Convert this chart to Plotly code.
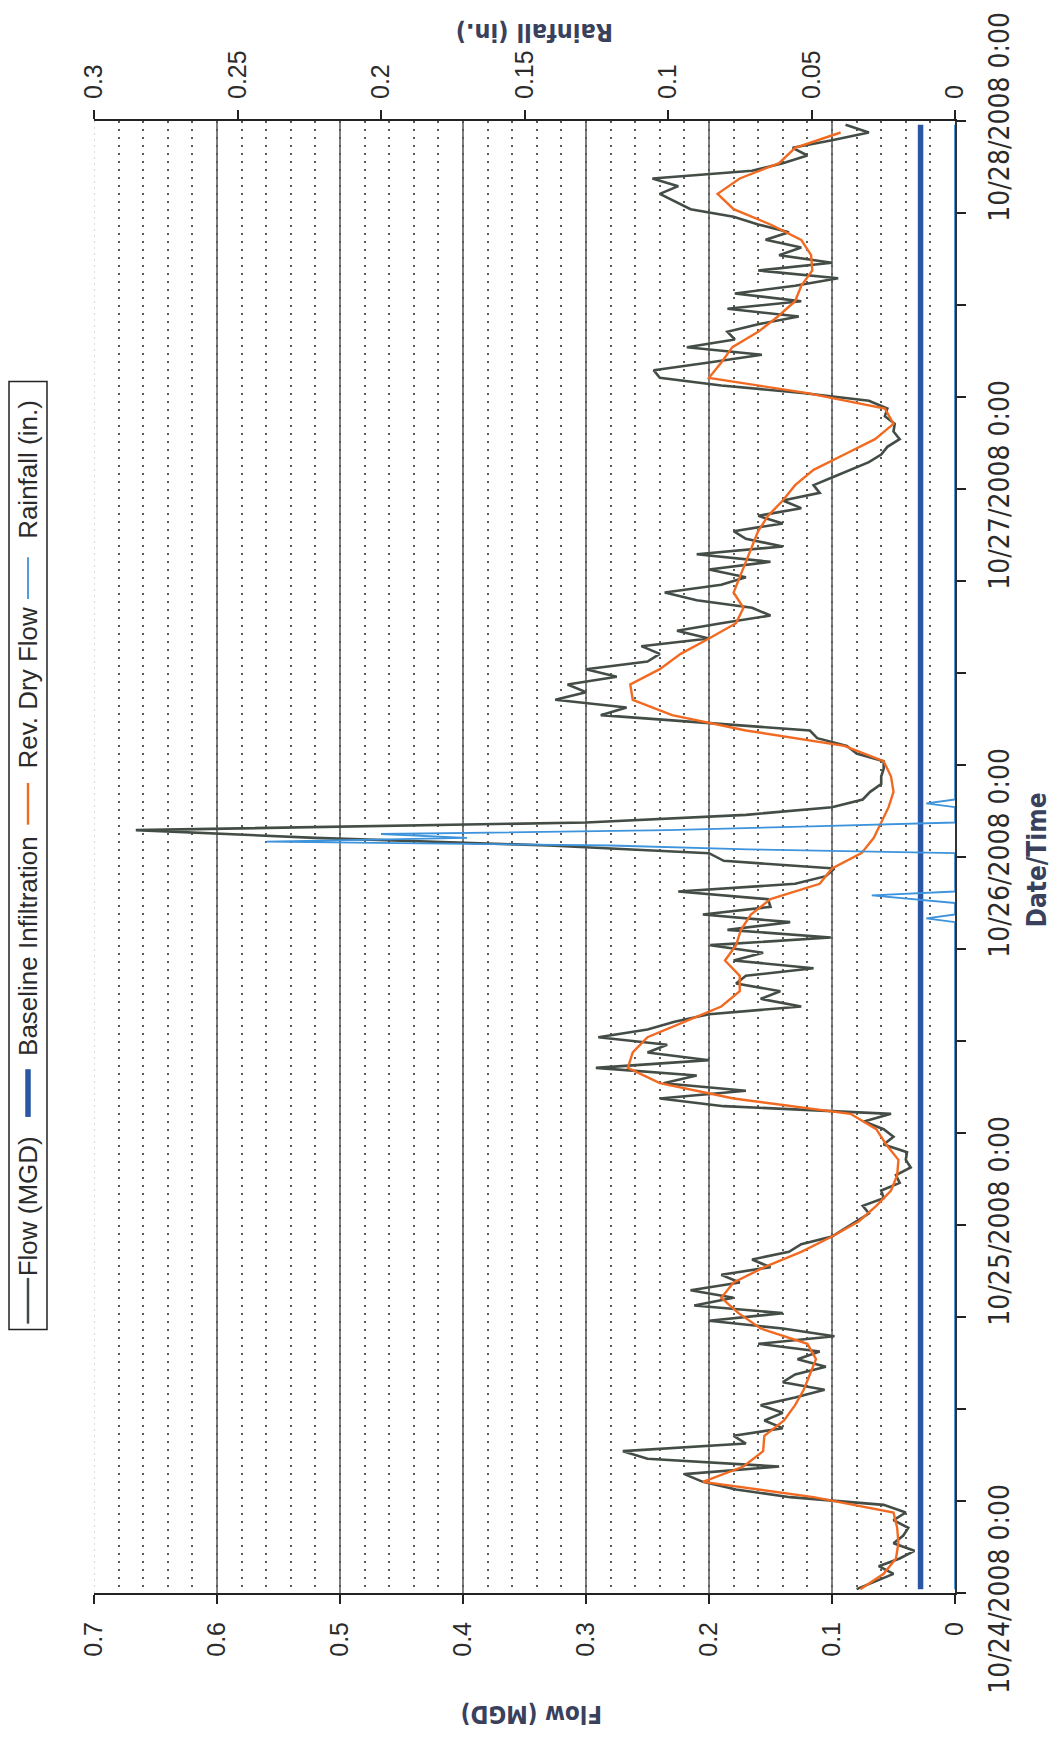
import pandas as pd
import plotly.graph_objects as go

# ---------------- data ----------------
# Flow (MGD), every 30 minutes starting 10/24/2008 00:15
flow_mgd = [
    0.080, 0.065, 0.050, 0.062, 0.045, 0.033, 0.050, 0.042, 0.038, 0.050, 0.040, 0.058,
    0.134, 0.178, 0.205, 0.220, 0.143, 0.250, 0.270, 0.170, 0.180, 0.140, 0.155, 0.140,
    0.158, 0.130, 0.106, 0.140, 0.130, 0.105, 0.128, 0.110, 0.160, 0.098, 0.140, 0.200,
    0.140, 0.212, 0.180, 0.215, 0.175, 0.190, 0.150, 0.165, 0.135, 0.125, 0.100, 0.090,
    0.080, 0.070, 0.075, 0.058, 0.060, 0.045, 0.048, 0.036, 0.040, 0.039, 0.058, 0.050,
    0.058, 0.074, 0.052, 0.188, 0.240, 0.170, 0.237, 0.210, 0.292, 0.200, 0.250, 0.234,
    0.290, 0.250, 0.228, 0.200, 0.125, 0.158, 0.142, 0.178, 0.170, 0.115, 0.180, 0.156,
    0.199, 0.101, 0.185, 0.134, 0.205, 0.150, 0.152, 0.225, 0.130, 0.105, 0.098, 0.188,
    0.200, 0.330, 0.520, 0.666, 0.300, 0.170, 0.100, 0.075, 0.069, 0.060, 0.060, 0.058,
    0.058, 0.080, 0.088, 0.112, 0.118, 0.200, 0.288, 0.267, 0.325, 0.300, 0.315, 0.275,
    0.300, 0.250, 0.240, 0.255, 0.200, 0.226, 0.190, 0.150, 0.165, 0.210, 0.236, 0.190,
    0.170, 0.200, 0.150, 0.210, 0.140, 0.170, 0.180, 0.140, 0.160, 0.125, 0.140, 0.110,
    0.115, 0.100, 0.085, 0.070, 0.060, 0.055, 0.045, 0.050, 0.049, 0.057, 0.055, 0.070,
    0.122, 0.190, 0.240, 0.245, 0.200, 0.157, 0.218, 0.179, 0.185, 0.160, 0.127, 0.185,
    0.125, 0.179, 0.130, 0.095, 0.160, 0.100, 0.143, 0.125, 0.154, 0.135, 0.160, 0.180,
    0.215, 0.228, 0.240, 0.225, 0.246, 0.165, 0.140, 0.120, 0.132, 0.100, 0.070, 0.089,
]

# Rev. Dry Flow (MGD), hourly starting 10/24/2008 00:15
dry_flow_mgd = [
    0.077, 0.058, 0.048, 0.046, 0.047, 0.050, 0.115, 0.205, 0.172, 0.156, 0.155, 0.139,
    0.130, 0.123, 0.118, 0.113, 0.120, 0.158, 0.176, 0.190, 0.180, 0.155, 0.125, 0.100,
    0.078, 0.064, 0.052, 0.047, 0.046, 0.056, 0.064, 0.085, 0.180, 0.240, 0.266, 0.262,
    0.250, 0.220, 0.190, 0.175, 0.175, 0.187, 0.178, 0.174, 0.166, 0.150, 0.110, 0.100,
    0.076, 0.066, 0.060, 0.054, 0.050, 0.052, 0.058, 0.090, 0.170, 0.230, 0.262, 0.264,
    0.240, 0.223, 0.200, 0.178, 0.172, 0.180, 0.175, 0.170, 0.165, 0.160, 0.152, 0.140,
    0.130, 0.115, 0.090, 0.065, 0.050, 0.057, 0.120, 0.200, 0.190, 0.181, 0.160, 0.144,
    0.130, 0.125, 0.116, 0.117, 0.125, 0.150, 0.180, 0.193, 0.175, 0.143, 0.130, 0.093,
]

# Baseline infiltration (MGD)
baseline_times = ["2008-10-24 00:15", "2008-10-27 23:45"]
baseline_mgd = [0.028, 0.028]

# Rainfall (in.)
rain_times = [
    "2008-10-24 00:15",
    "2008-10-25 19:45", "2008-10-25 20:00", "2008-10-25 20:15",
    "2008-10-25 21:00", "2008-10-25 21:15", "2008-10-25 21:30", "2008-10-25 21:45",
    "2008-10-26 00:15", "2008-10-26 00:30", "2008-10-26 00:45", "2008-10-26 01:00",
    "2008-10-26 01:15", "2008-10-26 01:30", "2008-10-26 01:45", "2008-10-26 02:00",
    "2008-10-26 02:15",
    "2008-10-26 03:15", "2008-10-26 03:30", "2008-10-26 03:45",
    "2008-10-27 23:45",
]
rain_in = [
    0.0,
    0.0, 0.010, 0.0,
    0.0, 0.016, 0.029, 0.0,
    0.0, 0.072, 0.120, 0.240,
    0.170, 0.200, 0.100, 0.050,
    0.0,
    0.0, 0.010, 0.0,
    0.0,
]

flow_ticks = [0, 0.1, 0.2, 0.3, 0.4, 0.5, 0.6, 0.7]
flow_tick_text = ["0", "0.1", "0.2", "0.3", "0.4", "0.5", "0.6", "0.7"]
flow_major_grid = [0.1, 0.2, 0.3, 0.4, 0.5, 0.6]
rain_ticks = [0, 0.05, 0.1, 0.15, 0.2, 0.25, 0.3]
rain_tick_text = ["0", "0.05", "0.1", "0.15", "0.2", "0.25", "0.3"]
date_ticks = ["2008-10-24", "2008-10-25", "2008-10-26", "2008-10-27", "2008-10-28"]
date_tick_text = ["10/24/2008 0:00", "10/25/2008 0:00", "10/26/2008 0:00",
                  "10/27/2008 0:00", "10/28/2008 0:00"]

legend_names = ["Flow (MGD)", "Baseline Infiltration", "Rev. Dry Flow", "Rainfall (in.)"]

flow_times = pd.date_range("2008-10-24 00:15", periods=len(flow_mgd), freq="30min")
dry_times = pd.date_range("2008-10-24 00:15", periods=len(dry_flow_mgd), freq="60min")

# ---------------- styling ----------------
W, H = 1060, 1739
L, R, T, B = 94, 955, 112, 1593          # plot area in page pixels
PW, PH = R - L, B - T

FLOW_C = "#434d46"
BASE_C = "#2a56a4"
DRY_C = "#f26a21"
RAIN_C = "#3d93dc"
TITLE_C = "#39415c"
TEXT_C = "#2b2b2b"

REG = "Liberation Sans, Arial, sans-serif"
NARROW = "Liberation Sans Narrow, Arial Narrow, DejaVu Sans Condensed, sans-serif"


def px(xp):
    return (xp - L) / PW


def py(yp):
    return (B - yp) / PH


fig = go.Figure()

fig.add_trace(go.Scatter(x=flow_mgd, y=flow_times, mode="lines", name=legend_names[0],
                         line=dict(color=FLOW_C, width=2.6), xaxis="x", yaxis="y"))
fig.add_trace(go.Scatter(x=baseline_mgd, y=baseline_times, mode="lines", name=legend_names[1],
                         line=dict(color=BASE_C, width=5.5), xaxis="x", yaxis="y"))
fig.add_trace(go.Scatter(x=dry_flow_mgd, y=dry_times, mode="lines", name=legend_names[2],
                         line=dict(color=DRY_C, width=2.4), xaxis="x", yaxis="y"))
fig.add_trace(go.Scatter(x=rain_in, y=rain_times, mode="lines", name=legend_names[3],
                         line=dict(color=RAIN_C, width=1.8), xaxis="x2", yaxis="y"))

shapes = []
# solid major gridlines for the flow axis
for g in flow_major_grid:
    shapes.append(dict(type="line", xref="x", yref="paper", x0=g, x1=g, y0=0, y1=1,
                       line=dict(color="#2a2a2a", width=1.2), layer="below"))
# faint edge line at the far end of the flow axis
shapes.append(dict(type="line", xref="x", yref="paper", x0=0.7, x1=0.7, y0=0, y1=1,
                   line=dict(color="#b8b8b8", width=1, dash="2px,4px"), layer="below"))

# legend box (reads bottom-to-top)
shapes.append(dict(type="rect", xref="paper", yref="paper",
                   x0=px(9), x1=px(47), y0=py(1328), y1=py(374),
                   line=dict(color="#222", width=1.5), fillcolor="white"))
legend_marks = [
    (1322, 1276, FLOW_C, 2.5),
    (1114, 1066, BASE_C, 5.5),
    (820, 778, DRY_C, 2.4),
    (593, 551, RAIN_C, 1.8),
]
for y0, y1, c, w in legend_marks:
    shapes.append(dict(type="line", xref="paper", yref="paper",
                       x0=px(28), x1=px(28), y0=py(y0), y1=py(y1),
                       line=dict(color=c, width=w)))

annotations = []
legend_text_y = [1204, 942, 682, 463]
for name, yc in zip(legend_names, legend_text_y):
    annotations.append(dict(text=name, xref="paper", yref="paper", x=px(28), y=py(yc),
                            showarrow=False, textangle=-90, xanchor="center", yanchor="middle",
                            font=dict(family=REG, size=26, color=TEXT_C)))

annotations.append(dict(text="<b>Rainfall (in.)</b>", xref="paper", yref="paper",
                        x=px(535), y=py(23), showarrow=False, textangle=180,
                        xanchor="center", yanchor="middle",
                        font=dict(family=NARROW, size=25, color=TITLE_C)))
annotations.append(dict(text="<b>Flow (MGD)</b>", xref="paper", yref="paper",
                        x=px(532), y=py(1714), showarrow=False, textangle=180,
                        xanchor="center", yanchor="middle",
                        font=dict(family=NARROW, size=24, color=TITLE_C)))
annotations.append(dict(text="<b>Date/Time</b>", xref="paper", yref="paper",
                        x=px(1037), y=py(856), showarrow=False, textangle=-90,
                        xanchor="center", yanchor="middle",
                        font=dict(family=NARROW, size=26, color=TITLE_C)))

fig.update_layout(
    width=W, height=H,
    margin=dict(l=L, r=W - R, t=T, b=H - B, pad=0),
    paper_bgcolor="white", plot_bgcolor="white",
    showlegend=False,
    shapes=shapes, annotations=annotations,
    xaxis=dict(
        range=[0.7, 0], side="bottom", anchor="y",
        tickmode="array", tickvals=flow_ticks, ticktext=flow_tick_text,
        tickangle=-90, ticks="outside", ticklen=9, tickwidth=1.5, tickcolor="#222",
        ticklabelstandoff=8,
        tickfont=dict(family=REG, size=25, color=TEXT_C),
        showline=True, linecolor="#222", linewidth=2,
        showgrid=False, zeroline=False,
        minor=dict(tickmode="linear", tick0=0, dtick=0.02, showgrid=True,
                   gridcolor="#5a5a5a", griddash="2px,6px", gridwidth=1.5, ticks=""),
    ),
    xaxis2=dict(
        range=[0.3, 0], side="top", overlaying="x", anchor="y",
        tickmode="array", tickvals=rain_ticks, ticktext=rain_tick_text,
        tickangle=-90, ticks="outside", ticklen=9, tickwidth=1.5, tickcolor="#222",
        ticklabelstandoff=6,
        tickfont=dict(family=REG, size=25, color=TEXT_C),
        showline=True, linecolor="#222", linewidth=2,
        showgrid=False, zeroline=False,
    ),
    yaxis=dict(
        type="date", range=["2008-10-24 00:00", "2008-10-28 00:00"], side="right",
        tickmode="array", tickvals=date_ticks, ticktext=date_tick_text,
        tickangle=-90, ticks="outside", ticklen=9, tickwidth=1.5, tickcolor="#222",
        ticklabelstandoff=10,
        tickfont=dict(family=NARROW, size=28, color=TEXT_C),
        showline=True, linecolor="#333", linewidth=1.5,
        showgrid=False, zeroline=False,
        minor=dict(tickmode="linear", tick0="2008-10-24", dtick=6 * 3600 * 1000,
                   ticks="outside", ticklen=9, tickwidth=1.5, tickcolor="#222",
                   showgrid=False),
    ),
)

fig.write_html("out.html")
